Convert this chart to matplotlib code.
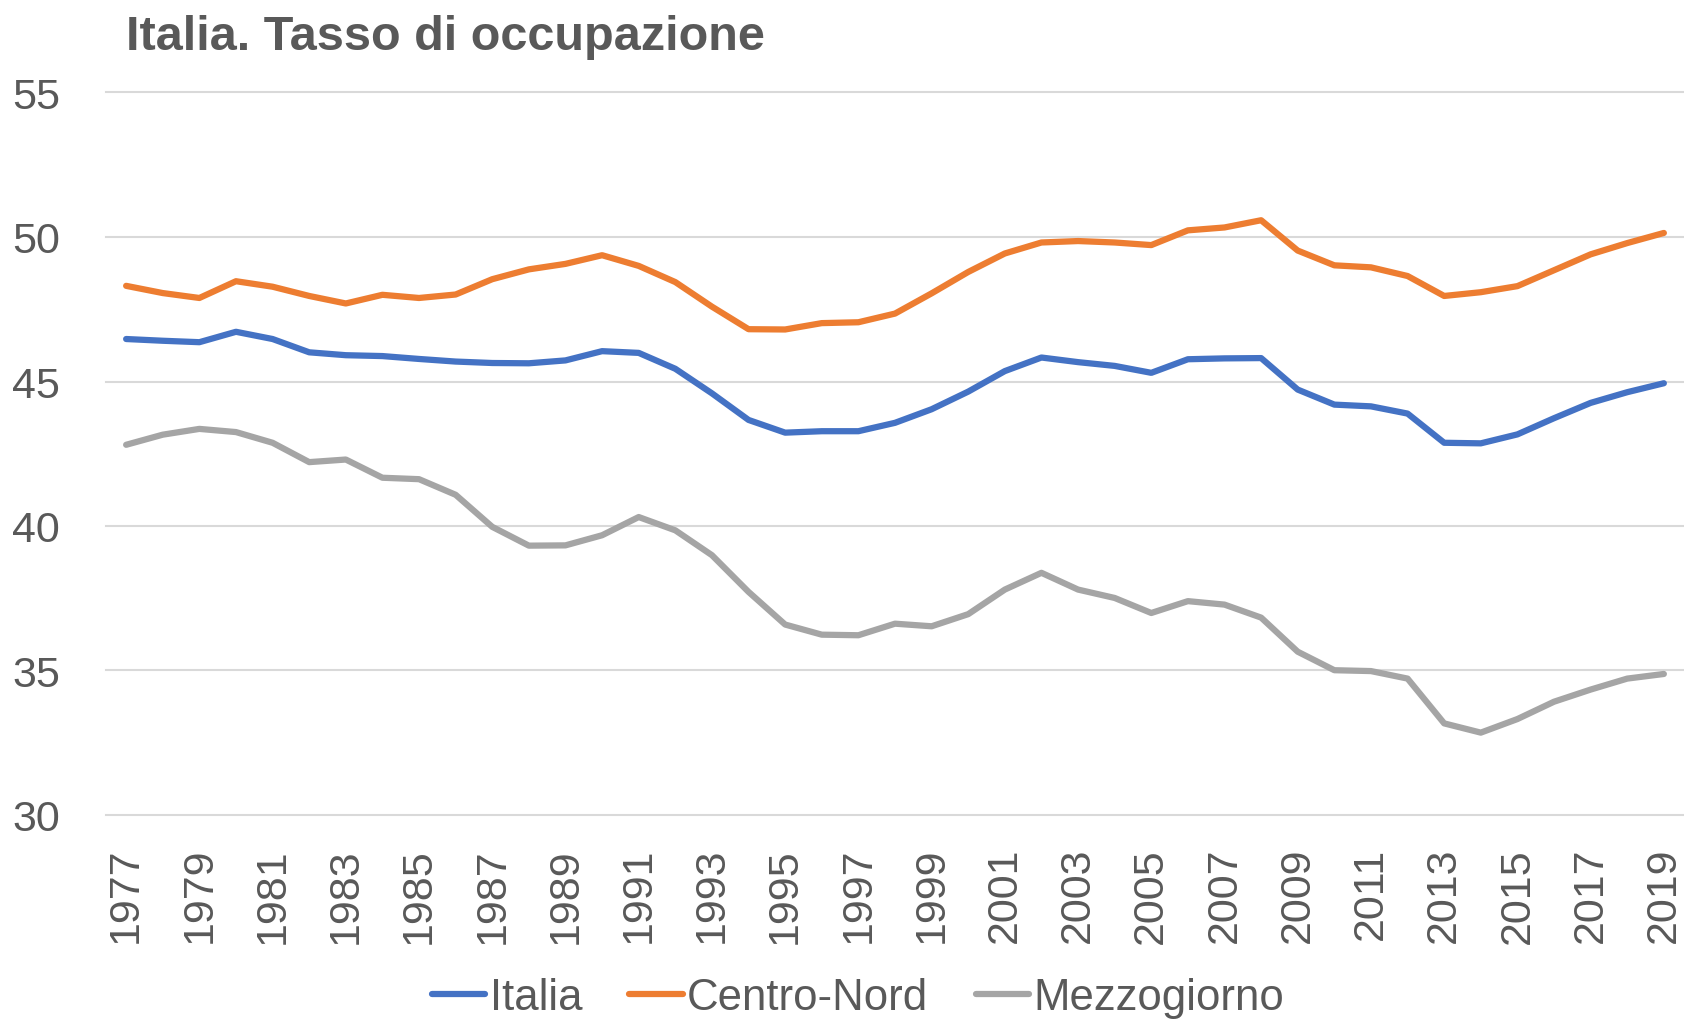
#!/usr/bin/env python3
# -*- coding: utf-8 -*-
"""
Italia. Tasso di occupazione: Italia, Centro-Nord, Mezzogiorno 1977-2019
"""

import matplotlib
matplotlib.use('Agg')
import matplotlib.pyplot as plt

plt.rcParams['font.family'] = ['Liberation Sans', 'DejaVu Sans']

# dati
anni = list(range(1977, 2020))

italia = [46.47, 46.41, 46.36, 46.72, 46.47, 46.01, 45.91, 45.88, 45.78, 45.69,
          45.64, 45.63, 45.73, 46.05, 45.99, 45.44, 44.59, 43.67, 43.23, 43.28,
          43.28, 43.57, 44.04, 44.65, 45.36, 45.83, 45.67, 45.54, 45.30, 45.77,
          45.80, 45.81, 44.72, 44.20, 44.14, 43.89, 42.88, 42.86, 43.17, 43.73,
          44.26, 44.63, 44.94]

centro_nord = [48.31, 48.06, 47.89, 48.47, 48.28, 47.96, 47.70, 48.00, 47.89, 48.01,
               48.54, 48.88, 49.07, 49.37, 49.00, 48.44, 47.59, 46.81, 46.80, 47.02,
               47.05, 47.35, 48.05, 48.79, 49.43, 49.81, 49.86, 49.81, 49.72, 50.23,
               50.33, 50.58, 49.53, 49.02, 48.95, 48.65, 47.96, 48.09, 48.30, 48.85,
               49.40, 49.79, 50.14]

mezzogiorno = [42.81, 43.16, 43.36, 43.25, 42.88, 42.21, 42.30, 41.67, 41.62, 41.08,
               39.97, 39.32, 39.33, 39.68, 40.31, 39.85, 38.99, 37.72, 36.59, 36.24,
               36.22, 36.62, 36.53, 36.95, 37.80, 38.38, 37.80, 37.51, 36.99, 37.40,
               37.28, 36.83, 35.65, 35.01, 34.98, 34.72, 33.17, 32.85, 33.32, 33.92,
               34.34, 34.72, 34.88]

colori = {
    'italia': '#4472C4',
    'centro_nord': '#ED7D31',
    'mezzogiorno': '#A5A5A5',
    'testo': '#595959',
    'griglia': '#D9D9D9',
}

W, H = 1684, 1020
fig = plt.figure(figsize=(W / 100, H / 100), dpi=100)
ax = fig.add_axes([106 / W, 1 - 816 / H, 1 - 106 / W, (816 - 93.5) / H])

x = list(range(len(anni)))
for serie, nome, chiave in [(italia, 'Italia', 'italia'),
                            (centro_nord, 'Centro-Nord', 'centro_nord'),
                            (mezzogiorno, 'Mezzogiorno', 'mezzogiorno')]:
    ax.plot(x, serie, color=colori[chiave], linewidth=4.5, label=nome,
            solid_capstyle='round', solid_joinstyle='round')

ax.set_xlim(-0.55, len(anni) - 0.45)
ax.set_ylim(30, 55)
ax.set_yticks([30, 35, 40, 45, 50, 55])
ax.set_xticks(x[::2])
ax.set_xticklabels([str(a) for a in anni[::2]], rotation=90)

ax.grid(True, axis='y', color=colori['griglia'], linewidth=1.5)
for g in ax.yaxis.get_gridlines():
    g.set_clip_on(False)
ax.set_axisbelow(True)
for s in ax.spines.values():
    s.set_visible(False)

ax.tick_params(axis='y', length=0, pad=33, labelsize=31, labelcolor=colori['testo'])
ax.tick_params(axis='x', length=0, pad=23, labelsize=31, labelcolor=colori['testo'])

fig.text(126 / W, 1 - 50 / H, 'Italia. Tasso di occupazione', fontsize=35,
         fontweight='bold', color=colori['testo'], ha='left', va='baseline')

leg = fig.legend(loc='center', bbox_to_anchor=(858 / W, 1 - 999 / H), ncol=3,
                 frameon=False, fontsize=31.5, handlelength=1.22, handletextpad=0.1,
                 columnspacing=1.08, borderpad=0)
for t in leg.get_texts():
    t.set_color(colori['testo'])

fig.savefig('out.png', dpi=100)
